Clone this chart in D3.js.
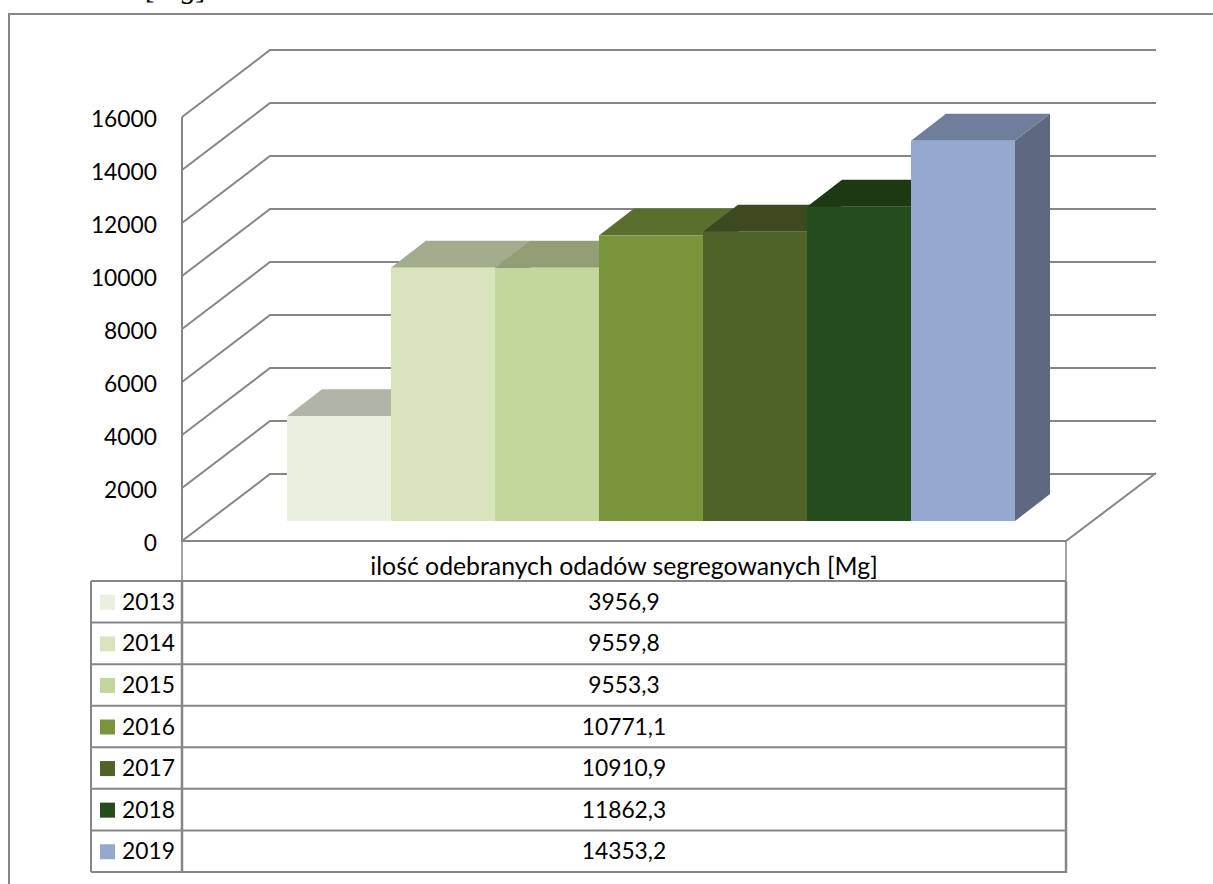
<!DOCTYPE html>
<html>
<head>
<meta charset="utf-8">
<script src="https://cdn.jsdelivr.net/npm/d3@7"></script>
<style>
  html, body { margin: 0; padding: 0; background: #fff; overflow: hidden; }
  text { font-family: Lato, "Open Sans", sans-serif; fill: #000; }
</style>
</head>
<body>
<svg id="chart" width="1213" height="884"></svg>
<script>
const years = ['2013', '2014', '2015', '2016', '2017', '2018', '2019'];
const values = [3956.9, 9559.8, 9553.3, 10771.1, 10910.9, 11862.3, 14353.2];
const valueLabels = ['3956,9', '9559,8', '9553,3', '10771,1', '10910,9', '11862,3', '14353,2'];
const frontColors = ['#eaf0df', '#d7e4bc', '#c3d69b', '#7a943c', '#4f6228', '#254c1c', '#95a9cf'];
const topColors = ['#b1b5a7', '#a2ad8e', '#929f74', '#5a6e2e', '#3d491f', '#1d3914', '#6f7e9b'];
const sideColor = '#5c6980';
const yTicks = [0, 2000, 4000, 6000, 8000, 10000, 12000, 14000, 16000];
const seriesName = 'ilość odebranych odadów segregowanych [Mg]';
const clippedCaption = '[Mg]';

const lineColor = '#868686';
const svg = d3.select('#chart');

const yScale = d3.scaleLinear().domain([0, 16000]).range([541, 117]);
const xBars = d3.scaleBand().domain(years).range([287, 1015]);
const rows = d3.scaleBand().domain(years).range([581, 872]);

// wall and floor offsets of the fake 3d box
const wall = { dx: 90, dy: -68 };
const depth = { dx: 35, dy: -27 };
const barBase = -20; // bars stand a bit in front of the axis corner
const right = 1066;

// frame, runs off the page on the right and bottom
svg.append('path')
  .attr('d', 'M9,884V14H1213')
  .attr('fill', 'none')
  .attr('stroke', lineColor)
  .attr('stroke-width', 2);

// caption above the frame, cut by the page edge like in the source
svg.append('text')
  .attr('x', 145)
  .attr('y', -2)
  .style('font-family', '"Liberation Serif", serif')
  .style('font-style', 'italic')
  .style('font-size', '30px')
  .text(clippedCaption);

// gridlines
const grid = svg.append('g')
  .attr('fill', 'none')
  .attr('stroke', lineColor)
  .attr('stroke-width', 2);

grid.selectAll('path')
  .data(yTicks)
  .join('path')
  .attr('d', d => {
    const y = yScale(d);
    return `M182,${y}L${182 + wall.dx - 2},${y + wall.dy + 1}H${right + wall.dx}`;
  });

grid.append('path').attr('d', `M182,${yScale(16000)}V${yScale(0)}H${right}L${right + wall.dx},${yScale(0) + wall.dy}`);

// tick labels
svg.append('g')
  .selectAll('text')
  .data(yTicks)
  .join('text')
  .attr('x', 157)
  .attr('y', d => yScale(d) + 1)
  .attr('text-anchor', 'end')
  .attr('dominant-baseline', 'central')
  .style('font-size', '22.8px')
  .text(d => d);

// bars, left to right so each one hides the side of the previous
const bars = svg.append('g');
years.forEach((year, i) => {
  const x0 = xBars(year);
  const x1 = x0 + xBars.bandwidth();
  const yTop = yScale(values[i]) + barBase;
  const yBottom = yScale(0) + barBase;

  bars.append('path')
    .attr('d', `M${x1},${yTop}L${x1 + depth.dx},${yTop + depth.dy}V${yBottom + depth.dy}L${x1},${yBottom}Z`)
    .attr('fill', sideColor);
  bars.append('path')
    .attr('d', `M${x0},${yTop}L${x0 + depth.dx},${yTop + depth.dy}H${x1 + depth.dx}L${x1},${yTop}Z`)
    .attr('fill', topColors[i]);
  bars.append('rect')
    .attr('x', x0)
    .attr('y', yTop)
    .attr('width', xBars.bandwidth())
    .attr('height', yBottom - yTop)
    .attr('fill', frontColors[i]);
});

// data table
const table = svg.append('g')
  .attr('fill', 'none')
  .attr('stroke', lineColor);

table.selectAll('line.row')
  .data(years)
  .join('line')
  .attr('class', 'row')
  .attr('x1', 91)
  .attr('x2', right)
  .attr('y1', d => rows(d) + rows.bandwidth())
  .attr('y2', d => rows(d) + rows.bandwidth())
  .attr('stroke-width', 2);

table.append('line').attr('x1', 91).attr('x2', right).attr('y1', 581).attr('y2', 581).attr('stroke-width', 2);
table.append('line').attr('x1', 91).attr('x2', 91).attr('y1', 581).attr('y2', 872).attr('stroke-width', 2);
table.append('line').attr('x1', 182).attr('x2', 182).attr('y1', 541).attr('y2', 581).attr('stroke-width', 1.5);
table.append('line').attr('x1', 182).attr('x2', 182).attr('y1', 581).attr('y2', 872).attr('stroke-width', 2.5);
table.append('line').attr('x1', right).attr('x2', right).attr('y1', 541).attr('y2', 581).attr('stroke-width', 1.5);
table.append('line').attr('x1', right).attr('x2', right).attr('y1', 581).attr('y2', 873).attr('stroke-width', 2.5);

svg.append('text')
  .attr('x', (182 + right) / 2)
  .attr('y', 565)
  .attr('text-anchor', 'middle')
  .attr('dominant-baseline', 'central')
  .style('font-size', '24.8px')
  .text(seriesName);

const tableRows = svg.append('g')
  .selectAll('g')
  .data(years)
  .join('g')
  .attr('transform', d => `translate(0,${rows(d) + rows.bandwidth() / 2})`);

tableRows.append('rect')
  .attr('x', 100)
  .attr('y', -7)
  .attr('width', 15)
  .attr('height', 15)
  .attr('fill', (d, i) => frontColors[i]);

tableRows.append('text')
  .attr('x', 122)
  .attr('y', -1)
  .attr('dominant-baseline', 'central')
  .style('font-size', '22.8px')
  .text(d => d);

tableRows.append('text')
  .attr('x', (182 + right) / 2)
  .attr('y', -1)
  .attr('text-anchor', 'middle')
  .attr('dominant-baseline', 'central')
  .style('font-size', '22.8px')
  .text((d, i) => valueLabels[i]);
</script>
</body>
</html>
